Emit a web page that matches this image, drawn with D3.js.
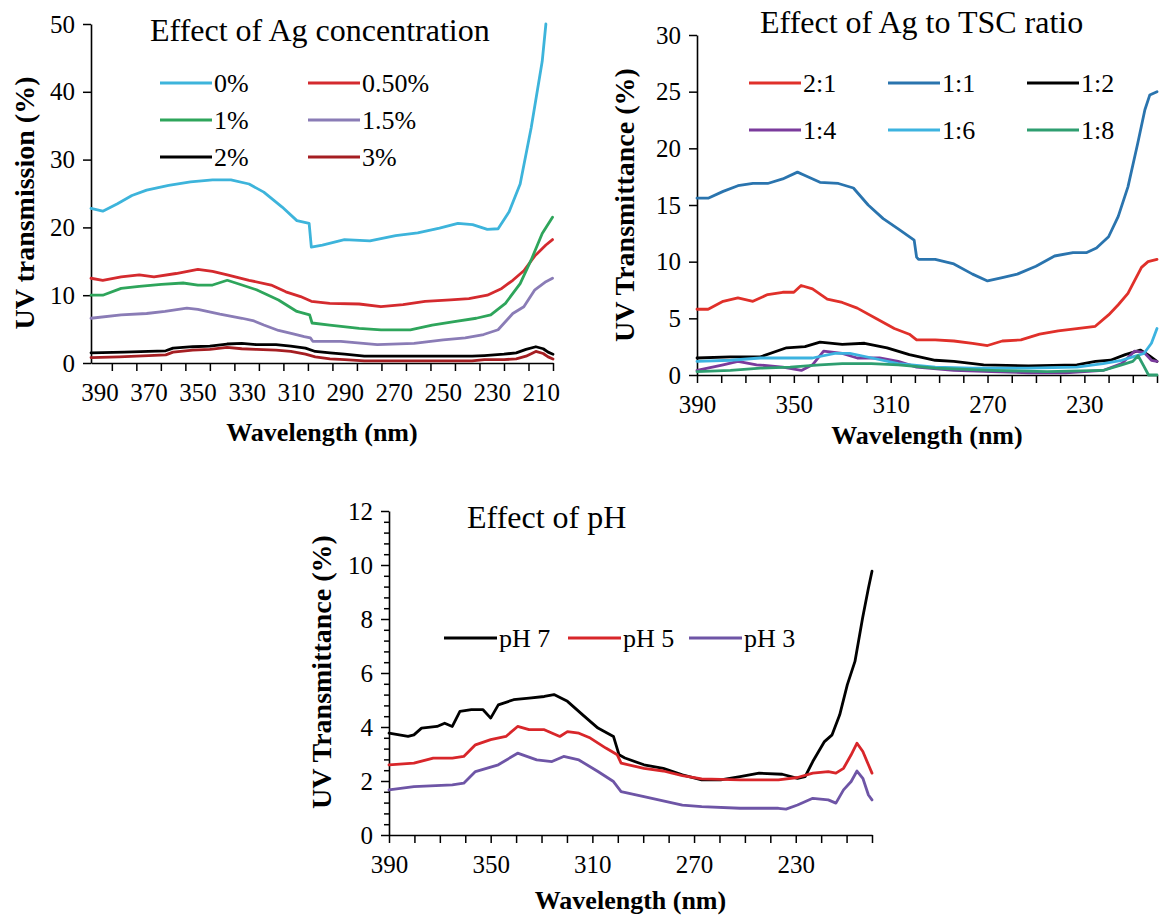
<!DOCTYPE html>
<html><head><meta charset="utf-8">
<script src="https://cdn.jsdelivr.net/npm/d3@7"></script>
<style>
body{margin:0;background:#fff}
svg{display:block}
text{font-family:"Liberation Serif","Times New Roman",serif;fill:#000}
</style>
</head><body>
<svg id="chart" width="1164" height="922"></svg>
<script>
// ---------------- DATA ----------------
// Panel 1: Effect of Ag concentration  ([wavelength nm, UV transmission %])
const agConcLabels = ["0%", "0.50%", "1%", "1.5%", "2%", "3%"];
const agConc0 = [[393.5,22.8],[388.7,22.4],[382.7,23.5],[376.8,24.7],[370.8,25.5],[361.8,26.2],[352.9,26.7],[343.9,27.0],[336.4,27.0],[329,26.4],[323,25.2],[315.5,23.0],[309.5,21.0],[304.5,20.6],[303.6,17.1],[299.1,17.4],[290.1,18.2],[279.7,18.0],[269.2,18.8],[260.2,19.2],[251.3,19.9],[243.8,20.6],[237.8,20.4],[231.8,19.7],[227.4,19.8],[222.9,22.3],[218.4,26.4],[213.9,34.7],[209.4,44.5],[207.9,50]];
const agConc05 = [[393.5,12.5],[388.7,12.2],[381.2,12.7],[373.8,13.0],[367.8,12.7],[358.8,13.2],[349.9,13.8],[343.9,13.5],[337.9,13.0],[329,12.2],[320,11.5],[314,10.5],[308,9.8],[303.6,9.1],[296.1,8.8],[284.1,8.7],[275.2,8.3],[266.2,8.6],[257.2,9.1],[246.8,9.3],[239.3,9.5],[231.8,10.0],[225.9,11.0],[221.4,12.2],[216.9,13.6],[212.4,15.8],[207.9,17.4],[205.2,18.2]];
const agConc1 = [[393.5,10.0],[388.7,10.0],[381.2,11.0],[373.8,11.3],[364.8,11.6],[355.9,11.8],[349.9,11.5],[343.9,11.5],[337.9,12.2],[331.9,11.5],[326,10.8],[317,9.3],[309.5,7.6],[304.3,7.1],[303.3,5.9],[296.1,5.6],[284.1,5.1],[275.2,4.9],[263.2,4.9],[254.3,5.6],[245.3,6.1],[236.3,6.6],[230.4,7.1],[224.4,8.8],[218.4,11.7],[213.9,15.2],[209.4,19.1],[205.2,21.5]];
const agConc15 = [[393.5,6.6],[381.2,7.1],[370.8,7.3],[363.3,7.6],[354.4,8.1],[349.9,7.9],[340.9,7.2],[331.9,6.6],[327,6.2],[323,5.6],[317,4.8],[311,4.3],[306.5,3.9],[304,3.7],[303,3.2],[291.6,3.2],[276.7,2.7],[261.7,2.9],[249.8,3.4],[240.8,3.7],[233.3,4.2],[227.4,4.9],[221.4,7.3],[216.9,8.3],[212.4,10.8],[207.9,12.0],[205.2,12.5]];
const agConc2 = [[393.5,1.5],[380,1.6],[370,1.7],[363,1.8],[360,2.2],[352,2.4],[345,2.5],[338,2.8],[332,2.9],[326,2.7],[318,2.7],[312,2.5],[306,2.2],[302,1.7],[296,1.5],[290,1.3],[282,1.0],[270,1.0],[250,1.0],[238,1.0],[233,1.1],[225,1.3],[220,1.5],[216,2.0],[212,2.4],[209,2.1],[207,1.6],[205,1.3]];
const agConc3 = [[393.5,0.8],[382,0.9],[370,1.1],[363,1.2],[360,1.6],[352,1.9],[345,2.0],[338,2.3],[332,2.1],[326,2.0],[318,1.9],[312,1.7],[306,1.3],[302,0.9],[296,0.6],[290,0.5],[282,0.3],[270,0.3],[250,0.3],[238,0.3],[233,0.5],[225,0.5],[220,0.6],[216,1.0],[212,1.7],[209,1.4],[207,0.9],[205,0.6]];
const agConcXLabels = [390,370,350,330,310,290,270,250,230,210];
const agConcXTickMarks = [385,375,365,355,345,335,325,315,305,295,285,275,265,255,245,235,225,215,205];
const agConcYTicks = [0,10,20,30,40,50];

// Panel 2: Effect of Ag to TSC ratio
const ratioLabels = ["2:1", "1:1", "1:2", "1:4", "1:6", "1:8"];
const ratio21 = [[390,5.8],[385.4,5.8],[379.2,6.5],[373.1,6.8],[366.9,6.5],[360.8,7.1],[354.6,7.3],[350,7.3],[347,7.9],[342.3,7.6],[336.2,6.7],[330,6.4],[323.8,5.9],[316.2,5.0],[308.5,4.1],[302.3,3.6],[299.3,3.1],[291.6,3.1],[283.9,3.0],[276.2,2.8],[270,2.6],[263.9,3.0],[256.2,3.1],[248.5,3.6],[240.8,3.9],[233.1,4.1],[225.5,4.3],[220,5.3],[216,6.2],[212,7.2],[206.4,9.5],[203.7,10.0],[200,10.2]];
const ratio11 = [[390,15.6],[385.4,15.6],[379.2,16.2],[373.1,16.7],[366.9,16.9],[360.8,16.9],[354.6,17.3],[348.5,17.9],[345.4,17.6],[339.2,17.0],[331.6,16.9],[325.4,16.5],[319.3,15.0],[313.1,13.8],[306.9,12.9],[300.3,11.9],[299.3,10.4],[298.5,10.2],[291.6,10.2],[283.9,9.8],[276.2,8.9],[270,8.3],[263.9,8.6],[257.7,8.9],[250,9.6],[242.3,10.5],[234.7,10.8],[229,10.8],[225,11.2],[220,12.2],[216,14.0],[212,16.6],[208,20.4],[205,23.4],[203,24.7],[200,25.0]];
const ratio12 = [[390,1.5],[376.2,1.6],[363.8,1.6],[353,2.4],[345.4,2.5],[339.2,2.9],[330,2.7],[320.8,2.8],[311.5,2.4],[302.3,1.8],[291.6,1.3],[283.9,1.2],[271.6,0.9],[253.1,0.8],[233.1,0.9],[225.4,1.2],[219.2,1.3],[213.1,1.8],[206.9,2.2],[203.8,1.8],[200,1.2]];
const ratio14 = [[390,0.4],[379.2,0.9],[373.1,1.2],[365.4,0.9],[354.6,0.7],[346.9,0.4],[342.3,0.9],[337.7,2.1],[330,1.9],[323.8,1.5],[314.6,1.5],[306.9,1.2],[299.3,0.7],[283.9,0.4],[268.5,0.3],[253.1,0.2],[237.7,0.2],[222.3,0.4],[214.6,1.0],[209.3,2.1],[205.4,2.0],[202.3,1.3],[200,1.2]];
const ratio16 = [[390,1.2],[376.2,1.3],[363.8,1.5],[351.5,1.5],[342.3,1.5],[333.1,1.9],[326.9,1.9],[317.7,1.5],[306.9,1.0],[291.6,0.7],[276.2,0.6],[253.1,0.6],[233.1,0.7],[222.3,1.0],[214.6,1.3],[210,1.6],[205.4,1.9],[202.3,2.8],[200,4.1]];
const ratio18 = [[390,0.3],[376.2,0.4],[363.8,0.6],[351.5,0.7],[339.2,0.9],[330,1.0],[318,1.0],[306.9,0.9],[291.6,0.6],[268.5,0.4],[245.4,0.3],[222.3,0.4],[214.6,0.9],[210,1.2],[207.8,1.7],[205.5,0.8],[203.5,0],[200,0]];
const ratioXLabels = [390,350,310,270,230];
const ratioXTickMarks = [390,380,370,360,350,340,330,320,310,300,290,280,270,260,250,240,230,220,210,200];
const ratioYTicks = [0,5,10,15,20,25,30];

// Panel 3: Effect of pH
const phLabels = ["pH 7", "pH 5", "pH 3"];
const ph7 = [[390,3.77],[382.5,3.65],[380.2,3.71],[377.2,3.96],[371.1,4.02],[368.1,4.14],[365.1,4.02],[362.1,4.58],[357.6,4.64],[353,4.64],[350,4.33],[347,4.82],[341,5.01],[334.9,5.07],[328.9,5.13],[325.1,5.20],[319.8,4.95],[313.8,4.45],[307.8,3.96],[301.7,3.65],[299.5,2.97],[297.2,2.85],[289.7,2.60],[282.1,2.47],[274.6,2.23],[267,2.04],[259.5,2.04],[251.9,2.16],[244.4,2.29],[235.3,2.25],[229.3,2.10],[226.3,2.16],[223.3,2.72],[218.7,3.46],[215.7,3.71],[212.7,4.45],[209.7,5.57],[206.7,6.43],[203.7,8.04],[201.4,9.15],[200,9.77]];
const ph5 = [[390,2.60],[380.2,2.66],[372.6,2.85],[365.1,2.85],[360.6,2.91],[356,3.34],[350,3.53],[344,3.65],[339.4,4.02],[334.9,3.90],[328.9,3.90],[322.8,3.65],[319.8,3.83],[315.3,3.77],[310.8,3.59],[304.7,3.22],[300.2,2.97],[298.7,2.66],[289.7,2.47],[282.1,2.37],[274.6,2.20],[267,2.08],[251.9,2.04],[236.8,2.04],[229.3,2.13],[223.3,2.29],[217.2,2.35],[214.2,2.29],[211.2,2.47],[208.2,2.97],[205.9,3.40],[203.6,3.09],[201.4,2.60],[200,2.29]];
const ph3 = [[390,1.67],[380.2,1.79],[365.1,1.86],[360.6,1.92],[356,2.35],[347,2.60],[339.4,3.03],[331.9,2.78],[325.9,2.72],[321.3,2.91],[315.3,2.78],[307.8,2.35],[301.7,1.98],[298.7,1.61],[289.7,1.42],[274.6,1.11],[267,1.05],[251.9,0.99],[236.8,0.99],[233.8,0.96],[229.3,1.11],[223.3,1.36],[217.2,1.30],[214.2,1.18],[211.2,1.67],[208.2,1.98],[205.9,2.37],[203.6,2.10],[201.4,1.48],[200,1.30]];
const phXLabels = [390,350,310,270,230];
const phXTickMarks = [390,380,370,360,350,340,330,320,310,300,290,280,270,260,250,240,230,220,210,200];
const phYTicks = [0,2,4,6,8,10,12];
const phYMinorTicks = [0.4,0.8,1.2,1.6,2.4,2.8,3.2,3.6,4.4,4.8,5.2,5.6,6.4,6.8,7.2,7.6,8.4,8.8,9.2,9.6,10.4,10.8,11.2,11.6];

// ---------------- STYLE / LAYOUT ----------------
const svg = d3.select("#chart");
const TICK_FONT = 25, TITLE_FONT = 32, XTITLE_FONT = 26, YTITLE_FONT = 28, LEGEND_FONT = 26;

function drawPanel(cfg) {
  const x = d3.scaleLinear().domain(cfg.xDomain).range([cfg.left, cfg.right]);
  const y = d3.scaleLinear().domain(cfg.yDomain).range([cfg.bottom, cfg.top]);
  const g = svg.append("g");

  g.append("g").attr("transform", `translate(0,${cfg.bottom})`)
    .call(d3.axisBottom(x).tickValues(cfg.xTickMarks).tickSize(8).tickSizeOuter(0).tickFormat(""));
  const xl = g.append("g").attr("transform", `translate(0,${cfg.bottom})`)
    .call(d3.axisBottom(x).tickValues(cfg.xLabels).tickSize(0).tickPadding(20).tickFormat(d3.format("d")));
  xl.select(".domain").remove();
  g.append("g").attr("transform", `translate(${cfg.left},0)`)
    .call(d3.axisLeft(y).tickValues(cfg.yTicks).tickSize(8).tickSizeOuter(0).tickPadding(8));
  if (cfg.yMinor) {
    g.append("g").attr("transform", `translate(${cfg.left},0)`)
      .call(d3.axisLeft(y).tickValues(cfg.yMinor).tickSize(5).tickSizeOuter(0).tickFormat(""))
      .select(".domain").remove();
  }
  g.selectAll(".domain").attr("stroke", "#000").attr("stroke-width", 1.6);
  g.selectAll(".tick line").attr("stroke", "#000").attr("stroke-width", 1.5);
  g.selectAll(".tick text").attr("font-size", TICK_FONT).attr("font-family", '"Liberation Serif", serif').attr("fill", "#000");

  const line = d3.line().x(d => x(d[0])).y(d => y(d[1]));
  g.append("g").selectAll("path").data(cfg.series).join("path")
    .attr("d", s => line(s.data)).attr("fill", "none")
    .attr("stroke", s => s.color).attr("stroke-width", 2.8)
    .attr("stroke-linejoin", "round").attr("stroke-linecap", "round");

  g.append("text").attr("x", cfg.titleX).attr("y", cfg.titleY)
    .attr("font-size", TITLE_FONT).text(cfg.title);

  g.append("text").attr("x", (cfg.left + cfg.right) / 2).attr("y", cfg.xTitleY)
    .attr("text-anchor", "middle").attr("font-weight", "bold").attr("font-size", XTITLE_FONT)
    .text("Wavelength (nm)");
  g.append("text").attr("transform", `translate(${cfg.yTitleX},${cfg.yTitleY}) rotate(-90)`)
    .attr("text-anchor", "middle").attr("font-weight", "bold").attr("font-size", YTITLE_FONT)
    .text(cfg.yTitle);

  const leg = g.append("g").selectAll("g").data(cfg.series).join("g")
    .attr("transform", (s, i) => `translate(${cfg.legCols[i % cfg.legCols.length]},${cfg.legRows[Math.floor(i / cfg.legCols.length)]})`);
  leg.append("line").attr("x1", 0).attr("x2", cfg.legLine).attr("y1", 0).attr("y2", 0)
    .attr("stroke", s => s.color).attr("stroke-width", 3);
  leg.append("text").attr("x", cfg.legLine + 2).attr("y", 9).attr("font-size", LEGEND_FONT).text(s => s.name);
}

drawPanel({
  left: 91, right: 553, top: 24, bottom: 363,
  xDomain: [393.5, 205], yDomain: [0, 50],
  xTickMarks: agConcXTickMarks, xLabels: agConcXLabels, yTicks: agConcYTicks,
  title: "Effect of Ag concentration", titleX: 150, titleY: 41,
  xTitleY: 441, yTitle: "UV transmission (%)", yTitleX: 34, yTitleY: 203,
  legCols: [160, 308], legRows: [83, 120, 157], legLine: 52,
  series: [
    {name: agConcLabels[0], data: agConc0, color: "#3DB4DB"},
    {name: agConcLabels[1], data: agConc05, color: "#D42A2E"},
    {name: agConcLabels[2], data: agConc1, color: "#2EA55B"},
    {name: agConcLabels[3], data: agConc15, color: "#8A7CB6"},
    {name: agConcLabels[4], data: agConc2, color: "#000000"},
    {name: agConcLabels[5], data: agConc3, color: "#A51E22"}
  ]
});

drawPanel({
  left: 697, right: 1157, top: 35, bottom: 375,
  xDomain: [390, 200], yDomain: [0, 30],
  xTickMarks: ratioXTickMarks, xLabels: ratioXLabels, yTicks: ratioYTicks,
  title: "Effect of Ag to TSC ratio", titleX: 760, titleY: 33,
  xTitleY: 444, yTitle: "UV Transmittance (%)", yTitleX: 634, yTitleY: 205,
  legCols: [749, 888, 1027], legRows: [83, 130], legLine: 52,
  series: [
    {name: ratioLabels[0], data: ratio21, color: "#E0302A"},
    {name: ratioLabels[1], data: ratio11, color: "#2A74AE"},
    {name: ratioLabels[2], data: ratio12, color: "#000000"},
    {name: ratioLabels[3], data: ratio14, color: "#7A3B9C"},
    {name: ratioLabels[4], data: ratio16, color: "#3CB3E0"},
    {name: ratioLabels[5], data: ratio18, color: "#2E9E70"}
  ]
});

drawPanel({
  left: 389, right: 872, top: 511, bottom: 835,
  xDomain: [390, 200], yDomain: [0, 12],
  xTickMarks: phXTickMarks, xLabels: phXLabels, yTicks: phYTicks, yMinor: phYMinorTicks,
  title: "Effect of pH", titleX: 467, titleY: 528,
  xTitleY: 909, yTitle: "UV Transmittance (%)", yTitleX: 331, yTitleY: 672,
  legCols: [444, 568, 689], legRows: [638], legLine: 53,
  series: [
    {name: phLabels[0], data: ph7, color: "#000000"},
    {name: phLabels[1], data: ph5, color: "#D8262A"},
    {name: phLabels[2], data: ph3, color: "#6E55A6"}
  ]
});
</script>
</body></html>
